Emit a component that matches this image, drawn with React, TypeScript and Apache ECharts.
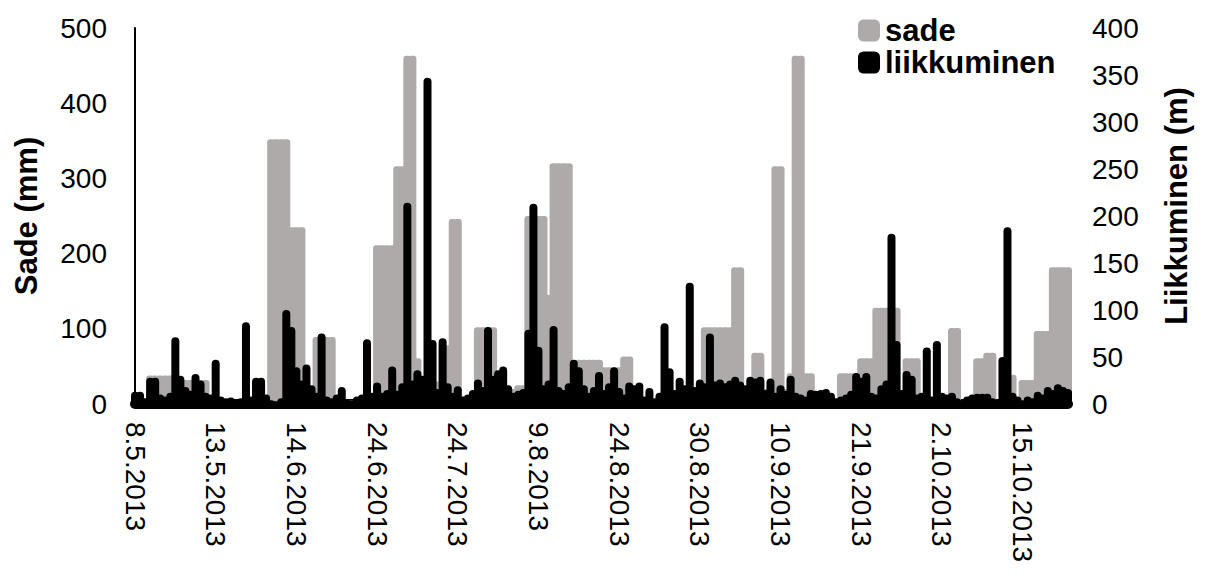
import React, { useEffect, useRef } from "react";
import * as echarts from "echarts";

const tickLabels = [
  "8.5.2013", "13.5.2013", "14.6.2013", "24.6.2013", "24.7.2013", "9.8.2013",
  "24.8.2013", "30.8.2013", "10.9.2013", "21.9.2013", "2.10.2013", "15.10.2013",
];
const labelEvery = 16;

// sade (mm), left axis
const sade = [
  8, 8, 8, 38, 38, 38, 38, 38, 38, 32,
  32, 32, 32, 32, 32, 0, 5, 0, 0, 5,
  0, 0, 5, 0, 0, 5, 5, 352, 352, 352,
  352, 235, 235, 235, 10, 10, 89, 89, 89, 89,
  5, 0, 0, 5, 0, 0, 5, 5, 211, 211,
  211, 211, 316, 316, 463, 463, 61, 30, 30, 30,
  30, 78, 78, 246, 246, 10, 10, 10, 102, 102,
  102, 102, 20, 20, 20, 20, 25, 25, 250, 250,
  250, 250, 145, 320, 320, 320, 320, 30, 59, 59,
  59, 59, 59, 49, 49, 49, 49, 63, 63, 10,
  10, 0, 0, 5, 5, 0, 0, 10, 10, 10,
  5, 5, 10, 102, 102, 102, 102, 102, 102, 182,
  182, 10, 10, 68, 68, 20, 20, 316, 316, 20,
  41, 463, 463, 41, 41, 0, 0, 5, 5, 0,
  41, 41, 41, 41, 61, 61, 61, 128, 128, 128,
  128, 128, 0, 61, 61, 61, 0, 0, 5, 5,
  0, 0, 101, 101, 0, 0, 0, 61, 61, 68,
  68, 3, 3, 39, 39, 0, 32, 32, 32, 97,
  97, 97, 182, 182, 182, 182,
];

// liikkuminen (m), right axis
const liikkuminen = [
  13, 13, 6, 28, 28, 10, 8, 12, 71, 30,
  18, 14, 32, 25, 12, 10, 47, 8, 6, 7,
  5, 6, 87, 8, 28, 28, 10, 4, 3, 6,
  100, 82, 39, 25, 42, 20, 12, 75, 8, 6,
  10, 18, 5, 4, 8, 10, 69, 12, 23, 12,
  15, 40, 14, 22, 214, 25, 36, 30, 347, 68,
  16, 70, 22, 12, 19, 8, 10, 15, 26, 18,
  82, 30, 36, 40, 20, 12, 14, 16, 79, 213,
  61, 20, 25, 83, 18, 15, 22, 47, 39, 20,
  12, 18, 34, 15, 22, 39, 17, 10, 23, 20,
  23, 8, 17, 6, 12, 86, 38, 15, 28, 20,
  129, 18, 26, 22, 75, 24, 26, 22, 25, 29,
  24, 20, 29, 27, 29, 15, 27, 12, 20, 14,
  30, 12, 10, 8, 15, 14, 15, 16, 12, 6,
  8, 10, 14, 33, 28, 33, 12, 10, 20, 25,
  181, 67, 15, 35, 30, 10, 12, 60, 8, 67,
  12, 10, 12, 6, 4, 8, 10, 11, 11, 11,
  6, 5, 50, 188, 12, 8, 4, 8, 6, 13,
  10, 18, 15, 21, 18, 16,
];

const categories = sade.map((_, i) => String(i));

const FONT = "'Liberation Sans', Arial, sans-serif";
const GRAY = "#AEAAAA";

export default function App() {
  const ref = useRef<HTMLDivElement>(null);
  useEffect(() => {
    if (!ref.current) return;
    const chart = echarts.init(ref.current, undefined, { renderer: "svg" });
    chart.setOption({
      animation: false,
      textStyle: { fontFamily: FONT },
      grid: { left: 135, right: 139, top: 28, bottom: 173, containLabel: false },
      legend: {
        orient: "vertical",
        left: 858,
        top: 15,
        padding: 0,
        itemWidth: 22,
        itemHeight: 22,
        itemGap: 1,
        icon: "roundRect",
        textStyle: { fontSize: 31, fontWeight: "bold", color: "#000", fontFamily: FONT },
        data: ["sade", "liikkuminen"],
      },
      xAxis: {
        type: "category",
        data: categories,
        boundaryGap: false,
        offset: 4,
        axisLine: { show: true, lineStyle: { color: "#000", width: 10 } },
        axisTick: { show: false },
        splitLine: { show: false },
        axisLabel: {
          interval: labelEvery - 1,
          rotate: -90,
          margin: 14,
          fontSize: 28,
          color: "#000",
          fontFamily: FONT,
          formatter: (_v: string, idx: number) =>
            idx % labelEvery === 0 ? tickLabels[idx / labelEvery] ?? "" : "",
        },
      },
      yAxis: [
        {
          type: "value",
          min: 0,
          max: 500,
          interval: 100,
          name: "Sade (mm)",
          nameLocation: "middle",
          nameRotate: 90,
          nameGap: 93,
          nameTextStyle: { fontSize: 31, fontWeight: "bold", color: "#000", fontFamily: FONT },
          axisLine: { show: true, lineStyle: { color: "#000", width: 2 } },
          axisTick: { show: false },
          splitLine: { show: false },
          axisLabel: { fontSize: 28, color: "#000", margin: 28, fontFamily: FONT },
        },
        {
          type: "value",
          min: 0,
          max: 400,
          interval: 50,
          position: "right",
          name: "Liikkuminen (m)",
          nameLocation: "middle",
          nameRotate: 90,
          nameGap: 93,
          nameTextStyle: {
            fontSize: 31,
            fontWeight: "bold",
            color: "#000",
            fontFamily: FONT,
            padding: [0, 0, 0, 20],
          },
          axisLine: { show: false },
          axisTick: { show: false },
          splitLine: { show: false },
          axisLabel: { fontSize: 28, color: "#000", margin: 24, fontFamily: FONT },
        },
      ],
      series: [
        {
          name: "sade",
          type: "bar",
          yAxisIndex: 0,
          data: sade,
          barWidth: 8,
          barGap: "-100%",
          itemStyle: {
            color: GRAY,
            borderColor: GRAY,
            borderWidth: 0,
            borderRadius: [3, 3, 0, 0],
          },
        },
        {
          name: "liikkuminen",
          type: "bar",
          yAxisIndex: 1,
          data: liikkuminen,
          barWidth: 8,
          barGap: "-100%",
          itemStyle: {
            color: "#000",
            borderColor: "#000",
            borderWidth: 0,
            borderRadius: [4, 4, 0, 0],
          },
        },
      ],
    });
    return () => chart.dispose();
  }, []);
  return <div ref={ref} style={{ width: 1207, height: 577, margin: -8 }} />;
}
